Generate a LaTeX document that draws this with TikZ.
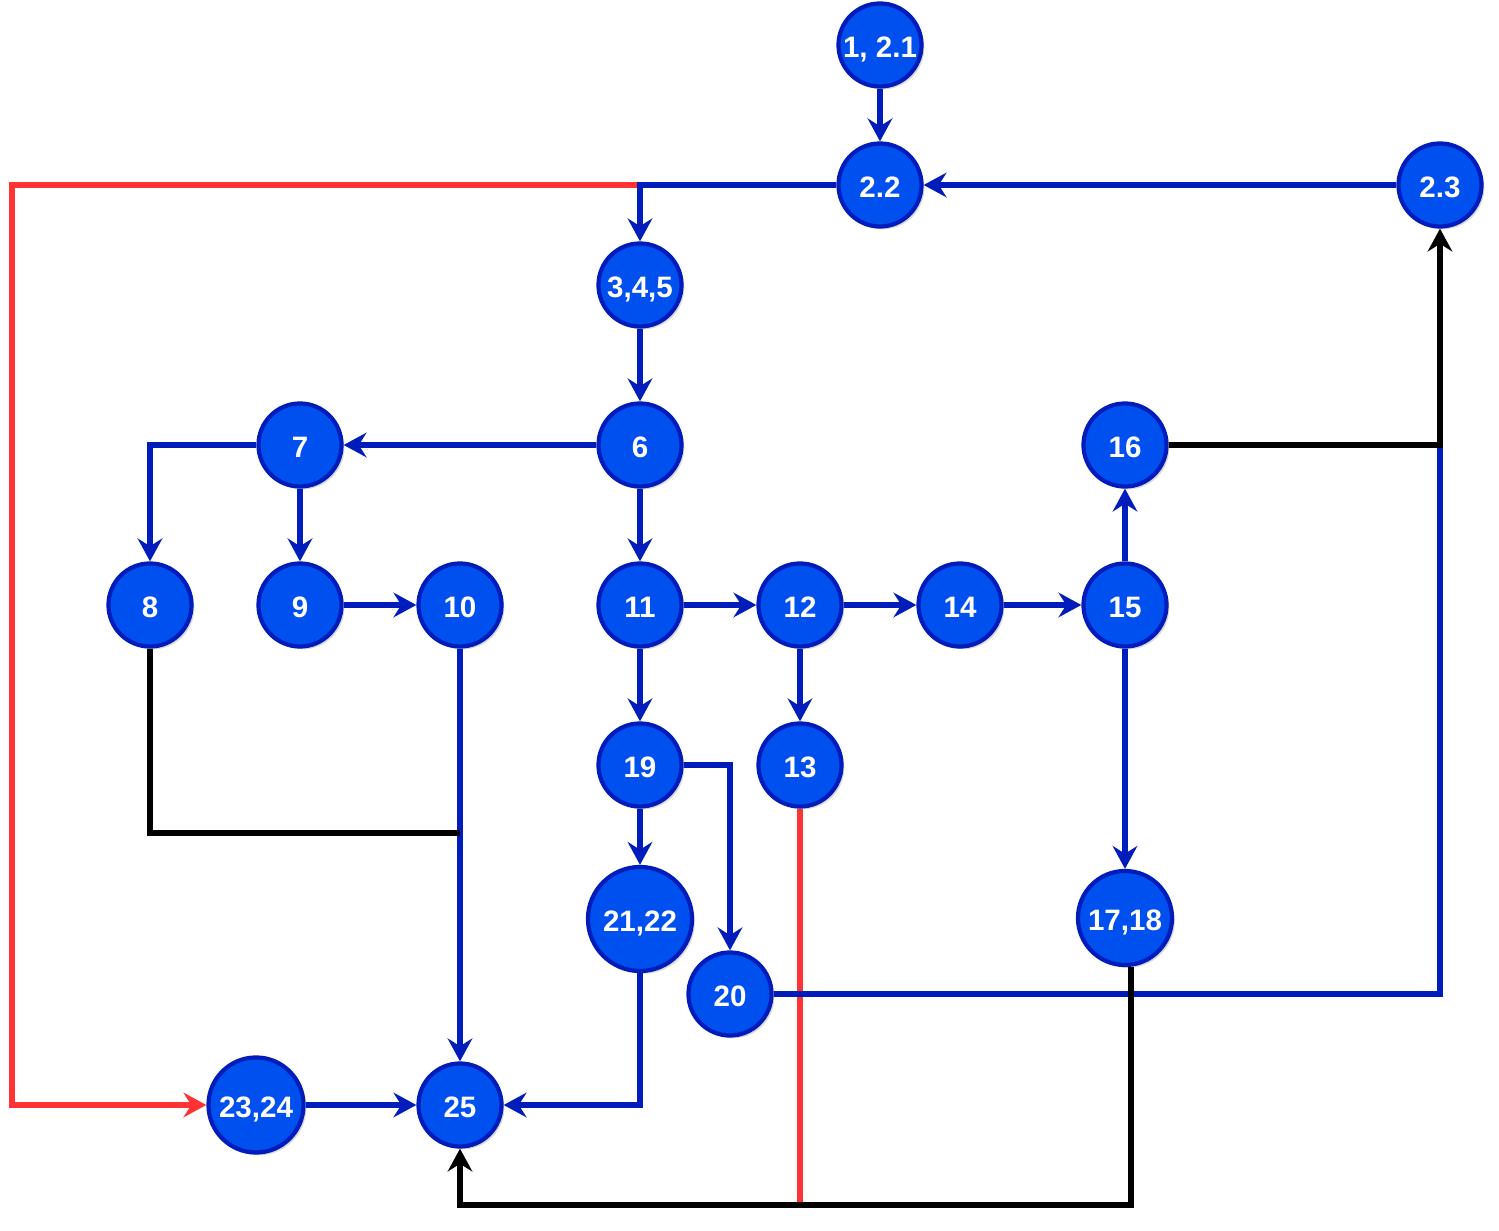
\documentclass[tikz,border=0pt]{standalone}
\usepackage{fontspec}
\setmainfont{Liberation Sans}
\usetikzlibrary{arrows.meta,shadows}
\definecolor{vfill}{HTML}{0050EF}
\definecolor{vline}{HTML}{001DBC}
\definecolor{rline}{HTML}{FF3333}

\begin{document}
\begin{tikzpicture}[x=0.01cm, y=-0.01cm,
	vert/.style={circle, fill=vfill, draw=vline, line width=1.2pt, minimum size=0.83cm, inner sep=0pt, text height=0.72em, text depth=0pt, text=white, font=\fontsize{8.4}{9}\selectfont\bfseries, drop shadow={shadow xshift=0.8pt, shadow yshift=-0.8pt, opacity=0.3}},
	bl/.style={draw=vline, line width=1.5pt},
	kl/.style={draw=black, line width=1.5pt},
	rl/.style={draw=rline, line width=1.5pt},
	tip/.style={-{Stealth[length=6.5pt, width=7pt, inset=2.2pt]}},
	barr/.style={bl, tip}, karr/.style={kl, tip}, rarr/.style={rl, tip},
	hv/.style={to path={-| (\tikztotarget)}},
	vh/.style={to path={|- (\tikztotarget)}}]
			\useasboundingbox (0,0) rectangle (1499,1231);
			
			\node[vert] (n1) at (880,45){1, 2.1};
			\node[vert] (n22) at (880,185){2.2};
			\node[vert] (n23) at (1440,185){2.3};
			\node[vert] (n345) at (640,285){3,4,5};
			\node[vert] (n6) at (640,445){6};
			\node[vert] (n7) at (300,445){7};
			\node[vert] (n16) at (1125,445){16};
			
			\node[vert] (n8) at (150,605){8};
			\node[vert] (n9) at (300,605){9};
			\node[vert] (n10) at (460,605){10};
			\node[vert] (n11) at (640,605){11};
			\node[vert] (n12) at (800,605){12};
			\node[vert] (n14) at (960,605){14};
			\node[vert] (n15) at (1125,605){15};
			
			\node[vert] (n19) at (640,765){19};
			\node[vert] (n13) at (800,765){13};
			\node[vert, minimum size=1.04cm] (n2122) at (640,919){21,22};
			\node[vert] (n20) at (730,994){20};
			\node[vert, minimum size=0.94cm] (n1718) at (1125,918){17,18};
			\node[vert, minimum size=0.95cm] (n2324) at (256,1105){23,24};
			\node[vert] (n25) at (460,1105){25};
			
			\coordinate (j1) at (640,185);
			\coordinate (j2) at (460,833);
			\coordinate (j3) at (1440,445);
			\coordinate (j4) at (800,1205);
			\coordinate (j5) at (460,1205);
			\coordinate (r1) at (12,185);
			
			\draw[rarr] (j1) -- (r1) |- (n2324);
			\draw[rl] (n13) -- (j4);
			
			\path (n1) edge[barr] (n22);
			\path (n23) edge[barr] (n22);
			\path (n22) edge[barr, hv] (n345);
			\path (n345) edge[barr] (n6);
			\path (n6) edge[barr] (n7);
			\path (n6) edge[barr] (n11);
			\path (n7) edge[barr, hv] (n8);
			\path (n7) edge[barr] (n9);
			\path (n9) edge[barr] (n10);
			\path (n10) edge[barr] (n25);
			\path (n11) edge[barr] (n12);
			\path (n11) edge[barr] (n19);
			\path (n12) edge[barr] (n14);
			\path (n12) edge[barr] (n13);
			\path (n14) edge[barr] (n15);
			\path (n15) edge[barr] (n16);
			\path (n15) edge[barr] (n1718);
			\path (n19) edge[barr] (n2122);
			\path (n19) edge[barr, hv] (n20);
			\path (n2122) edge[barr, vh] (n25);
			\path (n2324) edge[barr] (n25);
			\path (n20) edge[bl, hv] (j3);
			
			\path (n8) edge[kl, vh] (j2);
			\path (n16) edge[karr, hv] (n23);
			\draw[karr] ([xshift=0.06cm]n1718.south) |- (j5) -- (n25);
			\end{tikzpicture}
\end{document}
